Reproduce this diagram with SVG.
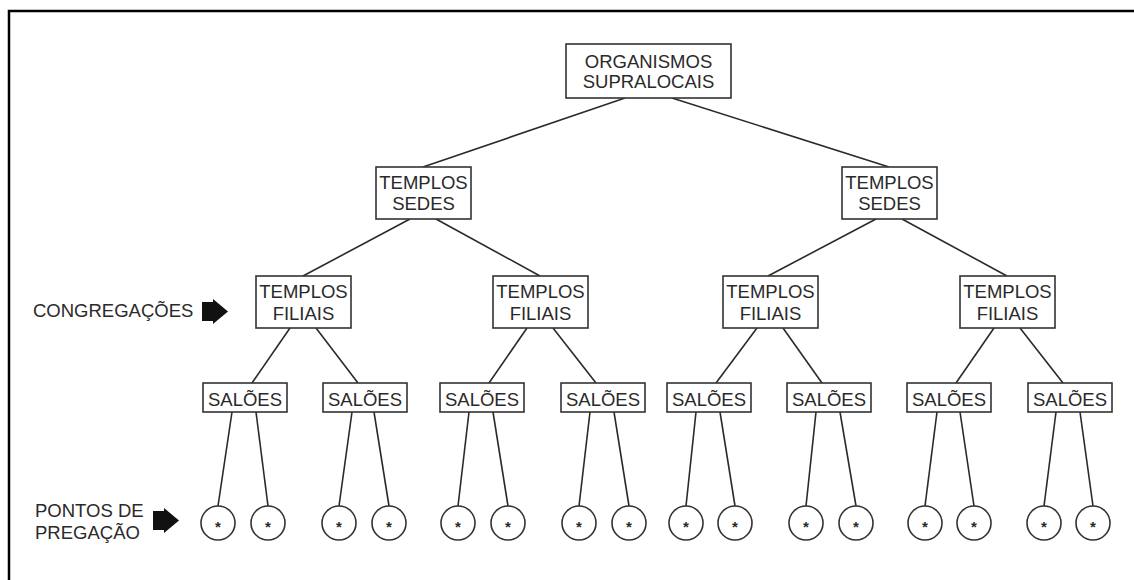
<svg xmlns="http://www.w3.org/2000/svg" width="1134" height="580" viewBox="0 0 1134 580">
  <style>
    .box { fill: #fff; stroke: #333; stroke-width: 1.6; }
    .lbl { font-family: "Liberation Sans", Arial, sans-serif; font-size: 18.5px; fill: #2a2a2a; text-anchor: middle; }
    .side { font-family: "Liberation Sans", Arial, sans-serif; font-size: 18.5px; fill: #2a2a2a; }
    .star { font-family: "Liberation Sans", Arial, sans-serif; font-size: 15px; font-weight: bold; fill: #2a2a2a; text-anchor: middle; }
    .pt { fill: #fff; stroke: #333; stroke-width: 1.6; }
    #connectors line { stroke: #2a2a2a; stroke-width: 1.6; }
    .arrow { fill: #111; }
  </style>
  <defs>
    <path id="blockArrow" d="M0,3 H11 V0 L26,12.5 L11,25 V22 H0 Z"/>
  </defs>

  <!-- outer frame (left and top edges) -->
  <path d="M9,580 V11 H1134" fill="none" stroke="#000" stroke-width="2.5"/>

  <!-- connectors -->
  <g id="connectors">
    <line x1="625" y1="98" x2="423" y2="167"/>
    <line x1="672" y1="98" x2="889" y2="167"/>
    <line x1="410" y1="219" x2="303" y2="276"/>
    <line x1="436" y1="219" x2="540" y2="276"/>
    <line x1="876" y1="219" x2="768" y2="276"/>
    <line x1="902" y1="219" x2="1007" y2="276"/>
    <line x1="290" y1="328" x2="252" y2="383"/>
    <line x1="316" y1="328" x2="358" y2="383"/>
    <line x1="527" y1="328" x2="489" y2="383"/>
    <line x1="553" y1="328" x2="596" y2="383"/>
    <line x1="757" y1="328" x2="716" y2="383"/>
    <line x1="783" y1="328" x2="822" y2="383"/>
    <line x1="994" y1="328" x2="956" y2="383"/>
    <line x1="1020" y1="328" x2="1063" y2="383"/>
    <!-- salões to pontos de pregação -->
    <line x1="232" y1="412" x2="218" y2="506"/>
    <line x1="256" y1="412" x2="268" y2="506"/>
    <line x1="352" y1="412" x2="339" y2="506"/>
    <line x1="374" y1="412" x2="389" y2="506"/>
    <line x1="469" y1="412" x2="458" y2="506"/>
    <line x1="493" y1="412" x2="508" y2="506"/>
    <line x1="590" y1="412" x2="579" y2="506"/>
    <line x1="614" y1="412" x2="629" y2="506"/>
    <line x1="696" y1="412" x2="686" y2="506"/>
    <line x1="720" y1="412" x2="735" y2="506"/>
    <line x1="816" y1="412" x2="806" y2="506"/>
    <line x1="840" y1="412" x2="856" y2="506"/>
    <line x1="937" y1="412" x2="925" y2="506"/>
    <line x1="960" y1="412" x2="974" y2="506"/>
    <line x1="1056" y1="412" x2="1044" y2="506"/>
    <line x1="1080" y1="412" x2="1093" y2="506"/>
  </g>

  <!-- top level -->
  <g id="organismos">
    <rect class="box" x="566" y="44" width="165" height="54"/>
    <text class="lbl" x="648.5" y="68">ORGANISMOS</text>
    <text class="lbl" x="648.5" y="88">SUPRALOCAIS</text>
  </g>

  <!-- sedes -->
  <g id="sede1">
    <rect class="box" x="376" y="167" width="95" height="52"/>
    <text class="lbl" x="423.5" y="189">TEMPLOS</text>
    <text class="lbl" x="423.5" y="210">SEDES</text>
  </g>
  <g id="sede2">
    <rect class="box" x="842" y="167" width="95" height="52"/>
    <text class="lbl" x="889.5" y="189">TEMPLOS</text>
    <text class="lbl" x="889.5" y="210">SEDES</text>
  </g>

  <!-- filiais -->
  <g id="filial1">
    <rect class="box" x="256" y="276" width="95" height="52"/>
    <text class="lbl" x="303.5" y="298">TEMPLOS</text>
    <text class="lbl" x="303.5" y="320">FILIAIS</text>
  </g>
  <g id="filial2">
    <rect class="box" x="493" y="276" width="95" height="52"/>
    <text class="lbl" x="540.5" y="298">TEMPLOS</text>
    <text class="lbl" x="540.5" y="320">FILIAIS</text>
  </g>
  <g id="filial3">
    <rect class="box" x="723" y="276" width="95" height="52"/>
    <text class="lbl" x="770.5" y="298">TEMPLOS</text>
    <text class="lbl" x="770.5" y="320">FILIAIS</text>
  </g>
  <g id="filial4">
    <rect class="box" x="960" y="276" width="95" height="52"/>
    <text class="lbl" x="1007.5" y="298">TEMPLOS</text>
    <text class="lbl" x="1007.5" y="320">FILIAIS</text>
  </g>

  <!-- salões -->
  <g id="salao1"><rect class="box" x="203" y="383" width="84" height="29"/><text class="lbl" x="245" y="406">SALÕES</text></g>
  <g id="salao2"><rect class="box" x="323" y="383" width="84" height="29"/><text class="lbl" x="365" y="406">SALÕES</text></g>
  <g id="salao3"><rect class="box" x="440" y="383" width="84" height="29"/><text class="lbl" x="482" y="406">SALÕES</text></g>
  <g id="salao4"><rect class="box" x="561" y="383" width="84" height="29"/><text class="lbl" x="603" y="406">SALÕES</text></g>
  <g id="salao5"><rect class="box" x="667" y="383" width="84" height="29"/><text class="lbl" x="709" y="406">SALÕES</text></g>
  <g id="salao6"><rect class="box" x="787" y="383" width="84" height="29"/><text class="lbl" x="829" y="406">SALÕES</text></g>
  <g id="salao7"><rect class="box" x="907" y="383" width="84" height="29"/><text class="lbl" x="949" y="406">SALÕES</text></g>
  <g id="salao8"><rect class="box" x="1028" y="383" width="84" height="29"/><text class="lbl" x="1070" y="406">SALÕES</text></g>

  <!-- pontos de pregação -->
  <g id="ponto1"><circle class="pt" cx="218" cy="523" r="17"/><text class="star" x="218" y="532">*</text></g>
  <g id="ponto2"><circle class="pt" cx="268" cy="523" r="17"/><text class="star" x="268" y="532">*</text></g>
  <g id="ponto3"><circle class="pt" cx="339" cy="523" r="17"/><text class="star" x="339" y="532">*</text></g>
  <g id="ponto4"><circle class="pt" cx="389" cy="523" r="17"/><text class="star" x="389" y="532">*</text></g>
  <g id="ponto5"><circle class="pt" cx="458" cy="523" r="17"/><text class="star" x="458" y="532">*</text></g>
  <g id="ponto6"><circle class="pt" cx="508" cy="523" r="17"/><text class="star" x="508" y="532">*</text></g>
  <g id="ponto7"><circle class="pt" cx="579" cy="523" r="17"/><text class="star" x="579" y="532">*</text></g>
  <g id="ponto8"><circle class="pt" cx="629" cy="523" r="17"/><text class="star" x="629" y="532">*</text></g>
  <g id="ponto9"><circle class="pt" cx="686" cy="523" r="17"/><text class="star" x="686" y="532">*</text></g>
  <g id="ponto10"><circle class="pt" cx="735" cy="523" r="17"/><text class="star" x="735" y="532">*</text></g>
  <g id="ponto11"><circle class="pt" cx="806" cy="523" r="17"/><text class="star" x="806" y="532">*</text></g>
  <g id="ponto12"><circle class="pt" cx="856" cy="523" r="17"/><text class="star" x="856" y="532">*</text></g>
  <g id="ponto13"><circle class="pt" cx="925" cy="523" r="17"/><text class="star" x="925" y="532">*</text></g>
  <g id="ponto14"><circle class="pt" cx="974" cy="523" r="17"/><text class="star" x="974" y="532">*</text></g>
  <g id="ponto15"><circle class="pt" cx="1044" cy="523" r="17"/><text class="star" x="1044" y="532">*</text></g>
  <g id="ponto16"><circle class="pt" cx="1093" cy="523" r="17"/><text class="star" x="1093" y="532">*</text></g>

  <!-- side labels -->
  <g id="label-congregacoes">
    <text class="side" x="33" y="317">CONGREGAÇÕES</text>
    <use href="#blockArrow" class="arrow" x="202" y="299"/>
  </g>
  <g id="label-pontos">
    <text class="side" x="35" y="517">PONTOS DE</text>
    <text class="side" x="35" y="539">PREGAÇÃO</text>
    <use href="#blockArrow" class="arrow" x="153" y="508"/>
  </g>
</svg>
